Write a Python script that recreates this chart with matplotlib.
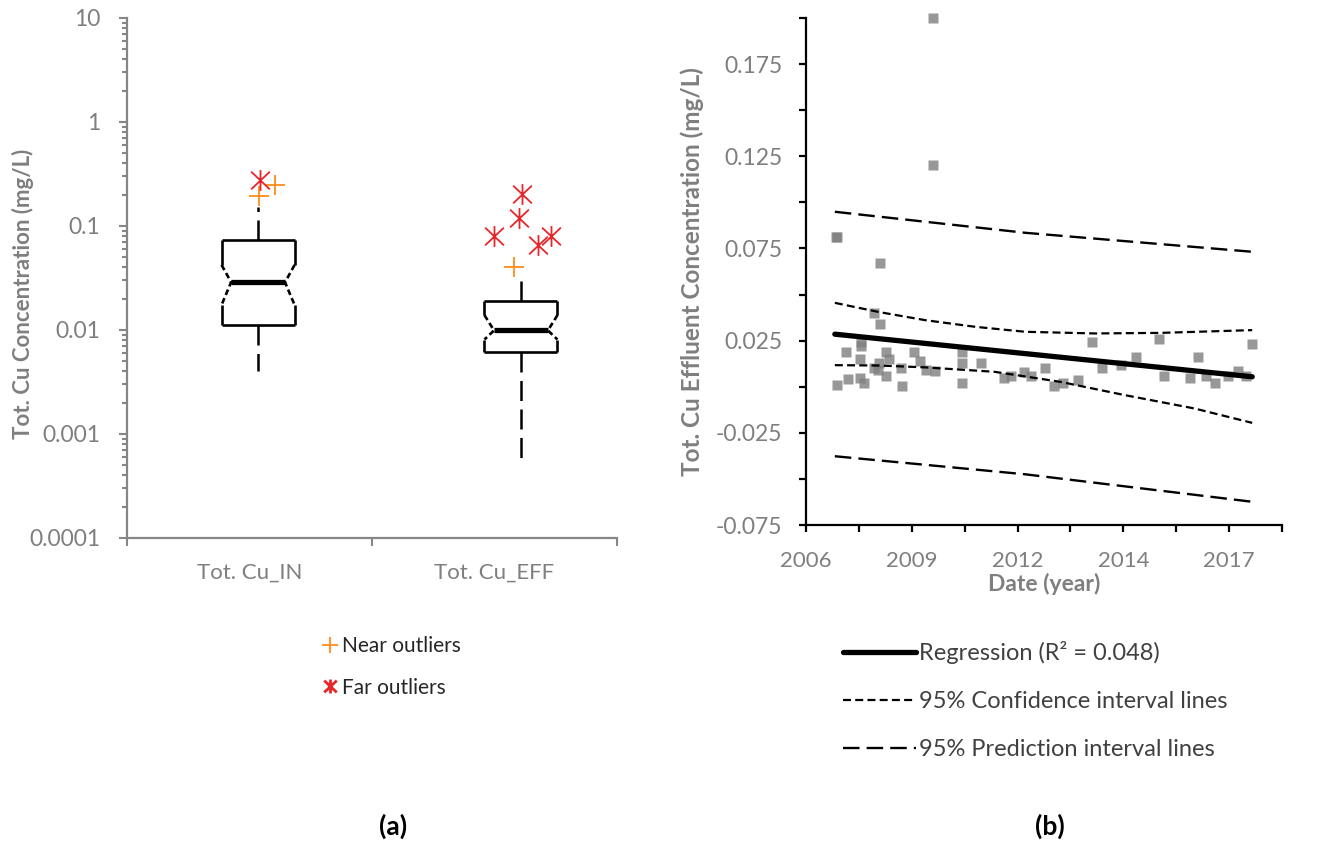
import numpy as np
import matplotlib
matplotlib.use('Agg')
import matplotlib.pyplot as plt
from matplotlib.lines import Line2D
from matplotlib.path import Path
from matplotlib.ticker import LogLocator, NullFormatter, FixedLocator

plt.rcParams['font.family'] = ['Lato', 'DejaVu Sans']

# ---------------- data (a): box plot ----------------
categories = ['Tot. Cu_IN', 'Tot. Cu_EFF']
box_pos = [0.535, 1.608]
q1 = [0.0112, 0.0061]
med = [0.0288, 0.0099]
q3 = [0.0733, 0.0190]
notch_lo = [0.0174, 0.0081]
notch_hi = [0.0422, 0.0139]
whis_lo = [0.0040, 0.0005]
whis_hi = [0.153, 0.034]

near_x = [0.540, 0.604, 1.581]
near_y = [0.194, 0.250, 0.0406]
far_x = [0.543, 1.613, 1.600, 1.499, 1.676, 1.731]
far_y = [0.277, 0.202, 0.120, 0.0807, 0.0657, 0.0807]

# ---------------- data (b): regression ----------------
obs_year = [2007.27, 2007.30, 2007.31, 2007.54, 2007.60, 2007.90, 2007.90, 2007.94, 2007.94,
            2008.01, 2008.26, 2008.27, 2008.38, 2008.40, 2008.42, 2008.42, 2008.59, 2008.59,
            2008.66, 2008.96, 2008.99, 2009.31, 2009.47, 2009.63, 2009.79, 2009.79, 2009.86,
            2010.55, 2010.55, 2010.55, 2011.04, 2011.66, 2011.82, 2012.16, 2012.35, 2012.71,
            2012.94, 2013.17, 2013.57, 2013.94, 2014.20, 2014.69, 2015.08, 2015.68, 2015.81,
            2016.49, 2016.70, 2016.90, 2017.14, 2017.47, 2017.72, 2017.94, 2018.09]
obs_conc = [0.081, 0.001, 0.081, 0.019, 0.004, 0.015, 0.005, 0.024, 0.022,
            0.002, 0.010, 0.040, 0.009, 0.013, 0.034, 0.067, 0.019, 0.006,
            0.015, 0.010, 0.0005, 0.019, 0.014, 0.009, 0.200, 0.120, 0.0085,
            0.019, 0.013, 0.002, 0.013, 0.005, 0.006, 0.008, 0.006, 0.010,
            0.0005, 0.002, 0.0035, 0.024, 0.010, 0.012, 0.016, 0.026, 0.006,
            0.005, 0.016, 0.006, 0.002, 0.006, 0.0085, 0.006, 0.023]

reg_year = [2007.25, 2018.1]
reg_val = [0.0285, 0.0054]
ci_year = [2007.25, 2008.4, 2009.6, 2010.9, 2012.2, 2014.0, 2015.7, 2018.1]
ci_up = [0.0455, 0.0405, 0.0361, 0.0325, 0.0298, 0.0289, 0.0292, 0.0307]
ci_year_lo = [2007.25, 2008.4, 2009.6, 2011.4, 2013.1, 2014.8, 2016.6, 2018.1]
ci_lo = [0.0117, 0.0115, 0.0105, 0.0081, 0.0027, -0.0046, -0.0118, -0.0196]
pi_year = [2007.25, 2012.2, 2018.1]
pi_up = [0.0949, 0.0835, 0.0732]
pi_lo = [-0.0377, -0.0475, -0.0624]

year_labels = ['2006', '', '2009', '', '2012', '', '2014', '', '2017', '']
r2 = 0.048

GRAY_TXT = '#7f7f7f'
AX_GRAY = '#868686'

fig = plt.figure(figsize=(13.32, 8.44), dpi=100)

# ================= (a) =================
ax1 = fig.add_axes([127/1332, 1-538/844, 490/1332, 520/844])
ax1.set_yscale('log')
ax1.set_ylim(1e-4, 10)
ax1.set_xlim(0, 2)

half_w = 0.149
notch_d = 0.039
solid = dict(color='black', lw=1.9, solid_capstyle='butt', zorder=3)
for i in range(len(categories)):
    x = box_pos[i]
    L, R = x - half_w, x + half_w
    # box outline
    ax1.plot([L, R], [q3[i], q3[i]], **solid)
    ax1.plot([L, R], [q1[i], q1[i]], **solid)
    for side, sgn in ((L, 1), (R, -1)):
        ax1.plot([side, side], [q3[i], notch_hi[i]], **solid)
        ax1.plot([side, side], [notch_lo[i], q1[i]], **solid)
        ax1.plot([side, side + sgn*notch_d, side], [notch_hi[i], med[i], notch_lo[i]],
                 color='black', lw=1.9, ls=(0, (2.2, 1.3)), zorder=3)
    ax1.plot([L + notch_d, R - notch_d], [med[i], med[i]], color='black', lw=3.8,
             solid_capstyle='butt', zorder=4)
    # whiskers
    ax1.plot([x, x], [q3[i], whis_hi[i]], color='black', lw=1.8, ls=(0, (8, 3.4)), zorder=3)
    ax1.plot([x, x], [q1[i], whis_lo[i]], color='black', lw=1.8, ls=(0, (8, 3.4)), zorder=3)

ast = Path([(0, -1), (0, 1), (-0.9, -0.85), (0.9, 0.85), (-0.9, 0.85), (0.9, -0.85)],
           [Path.MOVETO, Path.LINETO, Path.MOVETO, Path.LINETO, Path.MOVETO, Path.LINETO])
ax1.plot(near_x, near_y, ls='none', marker='+', ms=14, mew=1.3, color='#ff8c1a', zorder=5)
ax1.plot(far_x, far_y, ls='none', marker=ast, ms=15, mew=1.3, color='#e8262a', zorder=5)

for s in ('top', 'right'):
    ax1.spines[s].set_visible(False)
for s in ('left', 'bottom'):
    ax1.spines[s].set_color(AX_GRAY)
    ax1.spines[s].set_linewidth(1.6)
ax1.yaxis.set_minor_locator(LogLocator(base=10, subs=np.arange(2, 10), numticks=20))
ax1.yaxis.set_minor_formatter(NullFormatter())
ax1.set_yticks([1e-4, 1e-3, 1e-2, 1e-1, 1, 10])
ax1.set_yticklabels(['0.0001', '0.001', '0.01', '0.1', '1', '10'])
ax1.tick_params(axis='y', which='major', length=6, width=1.5, color=AX_GRAY,
                labelsize=16.5, labelcolor=GRAY_TXT, pad=13)
ax1.tick_params(axis='y', which='minor', length=3.5, width=1.5, color=AX_GRAY)
ax1.xaxis.set_major_locator(FixedLocator([0, 1, 2]))
ax1.xaxis.set_major_formatter(NullFormatter())
ax1.xaxis.set_minor_locator(FixedLocator([0.5, 1.5]))
ax1.set_xticklabels(categories, minor=True)
ax1.tick_params(axis='x', which='major', length=6, width=1.5, color=AX_GRAY)
ax1.tick_params(axis='x', which='minor', length=0, labelsize=16, labelcolor=GRAY_TXT, pad=18)
ax1.set_ylabel('Tot. Cu Concentration (mg/L)', fontsize=16, fontweight='bold', color=GRAY_TXT)
ax1.yaxis.set_label_coords(-0.19, 0.47)

h_near = Line2D([], [], ls='none', marker='+', ms=12, mew=1.3, color='#ff8c1a')
h_far = Line2D([], [], ls='none', marker=ast, ms=10, mew=2.0, color='#e8262a')
fig.legend([h_near, h_far], ['Near outliers', 'Far outliers'], loc='upper left',
           bbox_to_anchor=(322/1332, 1-636/844), frameon=False, fontsize=15,
           handlelength=0.8, handletextpad=0.15, labelspacing=1.04, labelcolor='#262626',
           borderpad=0, borderaxespad=0)

# ================= (b) =================
ax2 = fig.add_axes([806/1332, 1-525/844, 476/1332, 507/844])
ax2.set_xlim(2006.5, 2006.5 + 9*1.375)
ax2.set_ylim(-0.075, 0.2)

ax2.plot(obs_year, obs_conc, ls='none', marker='s', ms=7.5, color='#7f7f7f', alpha=0.8,
         mec='none', clip_on=False, zorder=2)
ax2.plot(reg_year, reg_val, color='black', lw=3.8, solid_capstyle='round', zorder=4,
         label=f'Regression (R\u00b2 = {r2})')
ax2.plot(ci_year, ci_up, color='black', lw=1.6, ls=(0, (3.6, 1.9)), zorder=3,
         label='95% Confidence interval lines')
ax2.plot(ci_year_lo, ci_lo, color='black', lw=1.6, ls=(0, (3.6, 1.9)), zorder=3)
ax2.plot(pi_year, pi_up, color='black', lw=1.7, ls=(0, (7, 3)), zorder=3,
         label='95% Prediction interval lines')
ax2.plot(pi_year, pi_lo, color='black', lw=1.7, ls=(0, (7, 3)), zorder=3)

for s in ('top', 'right'):
    ax2.spines[s].set_visible(False)
for s in ('left', 'bottom'):
    ax2.spines[s].set_color('black')
    ax2.spines[s].set_linewidth(1.6)
ax2.set_yticks(np.arange(-0.075, 0.2001, 0.025))
ax2.set_yticklabels(['-0.075', '', '-0.025', '', '0.025', '', '0.075', '', '0.125', '',
                     '0.175', ''])
ax2.set_xticks(2006.5 + np.arange(10)*1.375)
ax2.set_xticklabels(year_labels)
ax2.tick_params(axis='y', length=5, width=1.6, labelsize=16.5, labelcolor=GRAY_TXT, pad=12)
ax2.tick_params(axis='x', length=5, width=1.6, labelsize=16, labelcolor=GRAY_TXT, pad=14)
ax2.set_xlabel('Date (year)', fontsize=16.5, fontweight='bold', color=GRAY_TXT, labelpad=1)
ax2.set_ylabel('Tot. Cu Effluent Concentration (mg/L)', fontsize=17.5, fontweight='bold',
               color=GRAY_TXT)
ax2.yaxis.set_label_coords(-0.215, 0.5)

handles, labels = ax2.get_legend_handles_labels()
fig.legend(handles, labels, loc='upper left', bbox_to_anchor=(843/1332, 1-641/844),
           frameon=False, fontsize=17, handlelength=3.1, handletextpad=0.12,
           labelspacing=1.14, labelcolor='#404040', borderpad=0, borderaxespad=0)

fig.text(393/1332, 1-826/844, '(a)', fontsize=19, fontweight='bold', ha='center', va='center')
fig.text(1050/1332, 1-826/844, '(b)', fontsize=19, fontweight='bold', ha='center', va='center')

fig.savefig('out.png', dpi=100)
